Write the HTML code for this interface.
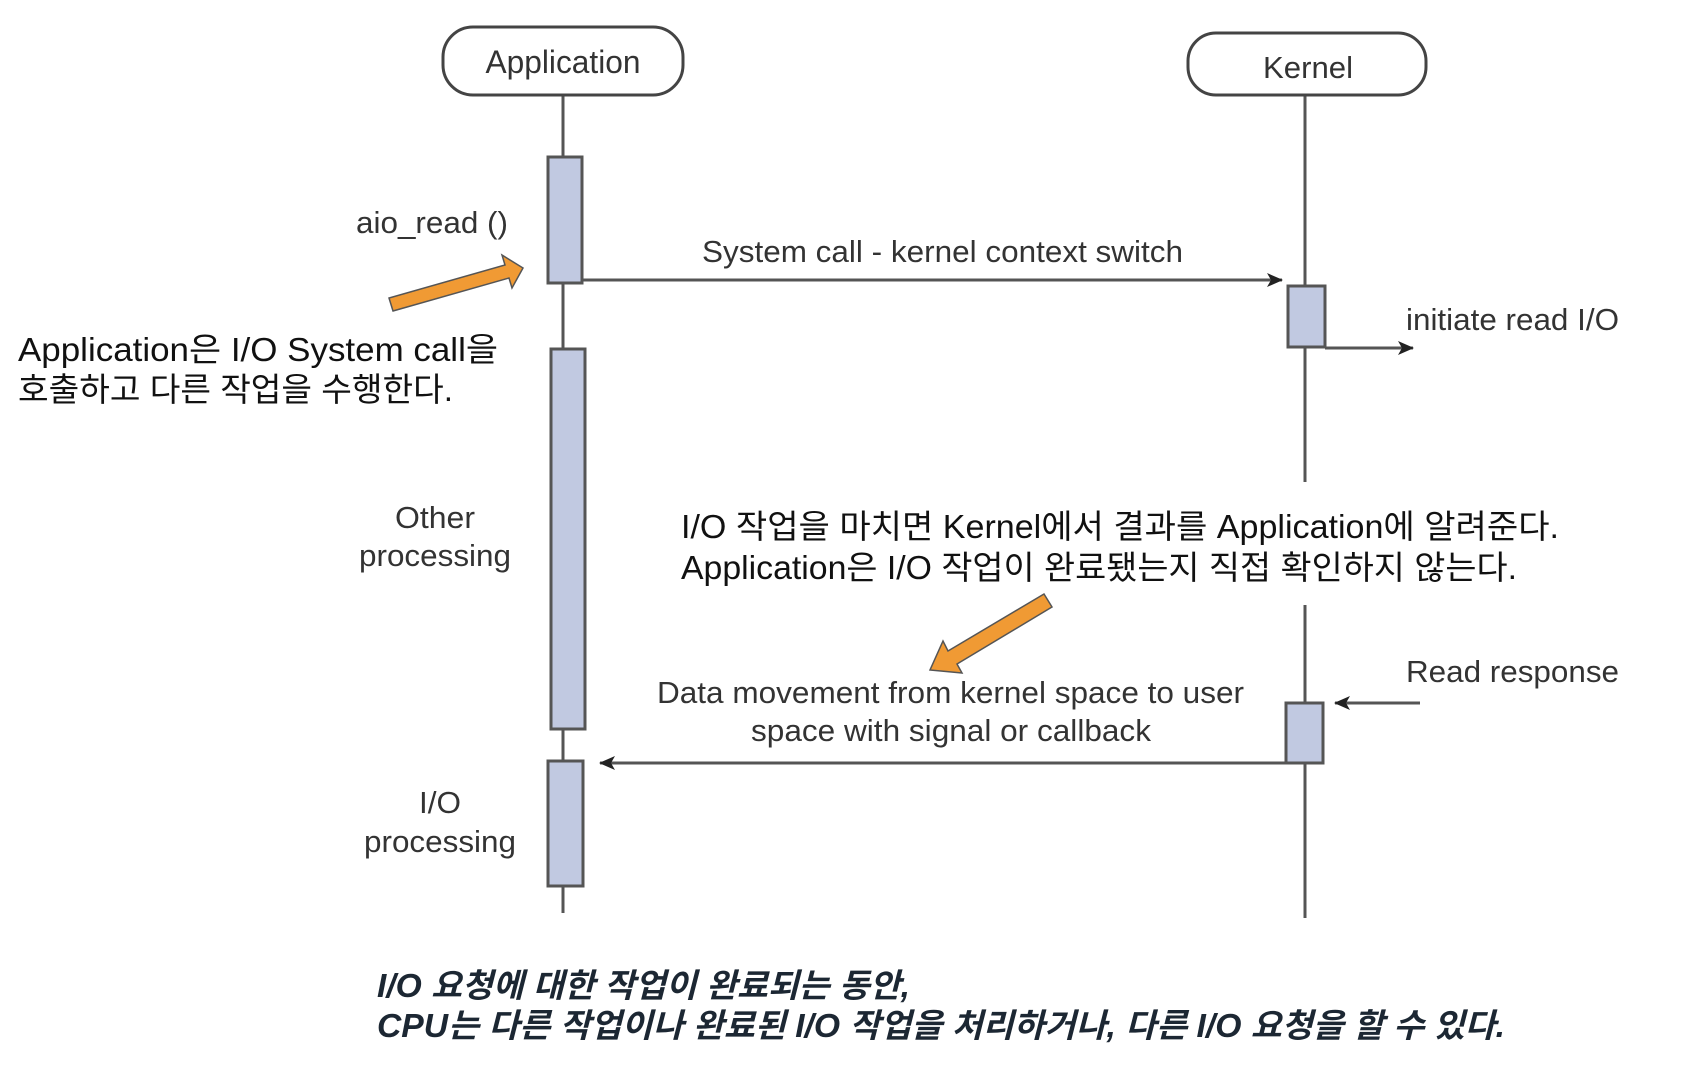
<!DOCTYPE html>
<html><head><meta charset="utf-8"><style>
html,body{margin:0;padding:0;background:#fff;}
svg{display:block;}
.d{font-family:"Liberation Sans","Noto Sans CJK KR",sans-serif;fill:#333;}
.k{font-family:"Liberation Sans","Noto Sans CJK KR",sans-serif;fill:#111;}
.b{font-family:"Liberation Sans","Noto Sans CJK KR",sans-serif;fill:#1c2733;font-weight:bold;font-style:italic;}
</style></head><body>
<svg width="1708" height="1072" viewBox="0 0 1708 1072" xmlns="http://www.w3.org/2000/svg">
<defs>
<marker id="ah" markerWidth="16" markerHeight="14" refX="15" refY="7" orient="auto" markerUnits="userSpaceOnUse">
<path d="M0,0 L16,7 L0,14 L4,7 Z" fill="#222"/></marker>
</defs>
<line x1="563" y1="95" x2="563" y2="913" stroke="#555" stroke-width="3"/>
<line x1="1305" y1="95" x2="1305" y2="482" stroke="#555" stroke-width="3"/>
<line x1="1305" y1="605" x2="1305" y2="918" stroke="#555" stroke-width="3"/>
<rect x="443" y="27" width="240" height="68" rx="30" fill="#fff" stroke="#444" stroke-width="3"/>
<text class="d" x="563" y="73" font-size="32" text-anchor="middle" textLength="155" lengthAdjust="spacingAndGlyphs">Application</text>
<rect x="1188" y="33" width="238" height="62" rx="28" fill="#fff" stroke="#444" stroke-width="3"/>
<text class="d" x="1308" y="78" font-size="31" text-anchor="middle" textLength="90" lengthAdjust="spacingAndGlyphs">Kernel</text>
<g fill="#c1c9e1" stroke="#555" stroke-width="3">
<rect x="548" y="157" width="34" height="126"/>
<rect x="551" y="349" width="34" height="380"/>
<rect x="548" y="761" width="35" height="125"/>
<rect x="1288" y="286" width="37" height="61"/>
<rect x="1286" y="703" width="37" height="60"/>
</g>
<line x1="582" y1="280" x2="1282" y2="280" stroke="#555" stroke-width="3" marker-end="url(#ah)"/>
<line x1="1325" y1="348" x2="1413" y2="348" stroke="#555" stroke-width="3" marker-end="url(#ah)"/>
<line x1="1420" y1="703" x2="1335" y2="703" stroke="#555" stroke-width="3" marker-end="url(#ah)"/>
<line x1="1286" y1="763" x2="600" y2="763" stroke="#555" stroke-width="3" marker-end="url(#ah)"/>
<text class="d" x="702" y="262" font-size="31" textLength="481" lengthAdjust="spacingAndGlyphs">System call - kernel context switch</text>
<text class="d" x="1406" y="330" font-size="31" textLength="213" lengthAdjust="spacingAndGlyphs">initiate read I/O</text>
<text class="d" x="1406" y="682" font-size="31" textLength="213" lengthAdjust="spacingAndGlyphs">Read response</text>
<text class="d" x="657" y="703" font-size="31" textLength="587" lengthAdjust="spacingAndGlyphs">Data movement from kernel space to user</text>
<text class="d" x="951" y="741" font-size="31" text-anchor="middle" textLength="400" lengthAdjust="spacingAndGlyphs">space with signal or callback</text>
<text class="d" x="356" y="233" font-size="31" textLength="152" lengthAdjust="spacingAndGlyphs">aio_read ()</text>
<text class="d" x="435" y="528" font-size="31" text-anchor="middle" textLength="80" lengthAdjust="spacingAndGlyphs">Other</text>
<text class="d" x="435" y="566" font-size="31" text-anchor="middle" textLength="152" lengthAdjust="spacingAndGlyphs">processing</text>
<text class="d" x="440" y="813" font-size="31" text-anchor="middle" textLength="42" lengthAdjust="spacingAndGlyphs">I/O</text>
<text class="d" x="440" y="852" font-size="31" text-anchor="middle" textLength="152" lengthAdjust="spacingAndGlyphs">processing</text>
<g fill="#f09a34" stroke="#555" stroke-width="1.5">
<path d="M393,311 L509,278 L512,288 L523,268 L502,255 L505,265 L389,298 Z"/>
<path d="M1052,607 L957,664 L962,673 L930,670 L943,641 L948,651 L1044,594 Z"/>
</g>
<text class="k" x="18" y="361" font-size="33" textLength="480" lengthAdjust="spacingAndGlyphs">Application은 I/O System call을</text>
<text class="k" x="18" y="401" font-size="33" textLength="435" lengthAdjust="spacingAndGlyphs">호출하고 다른 작업을 수행한다.</text>
<text class="k" x="681" y="538" font-size="33" textLength="878" lengthAdjust="spacingAndGlyphs">I/O 작업을 마치면 Kernel에서 결과를 Application에 알려준다.</text>
<text class="k" x="681" y="579" font-size="33" textLength="836" lengthAdjust="spacingAndGlyphs">Application은 I/O 작업이 완료됐는지 직접 확인하지 않는다.</text>
<text class="b" x="377" y="997" font-size="33" textLength="533" lengthAdjust="spacingAndGlyphs">I/O 요청에 대한 작업이 완료되는 동안,</text>
<text class="b" x="377" y="1037" font-size="33" textLength="1128" lengthAdjust="spacingAndGlyphs">CPU는 다른 작업이나 완료된 I/O 작업을 처리하거나, 다른 I/O 요청을 할 수 있다.</text>
</svg>
</body></html>
